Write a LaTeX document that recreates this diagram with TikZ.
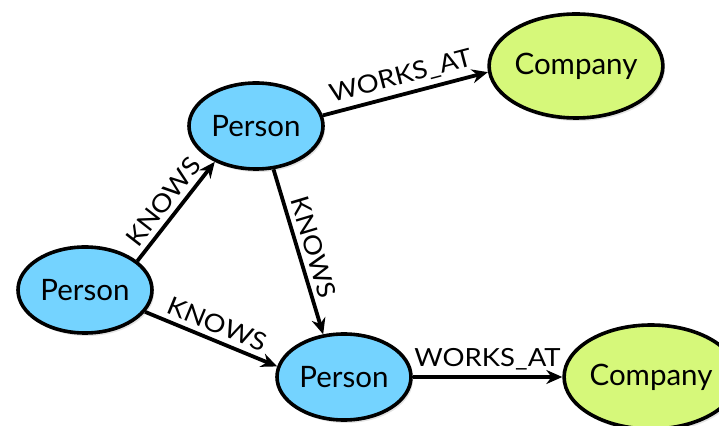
\documentclass[tikz,border=0pt]{standalone}
\usepackage{fontspec}
\setmainfont{Lato}
\newfontfamily\relfont[FakeStretch=1.1]{Lato}
\usetikzlibrary{shapes.geometric,arrows.meta,shadows}
\definecolor{personfill}{RGB}{116,211,255}
\definecolor{companyfill}{RGB}{214,248,122}
\tikzset{
  entity/.style={ellipse, draw=black, line width=3.6pt, inner sep=0pt,
    font=\fontsize{29.5}{32}\selectfont,
    drop shadow={opacity=0.22, shadow xshift=2pt, shadow yshift=-3pt}},
  person/.style={entity, fill=personfill, minimum width=134pt, minimum height=86pt},
  company/.style={entity, fill=companyfill, minimum width=168pt, minimum height=104pt},
  rel/.style={line width=3.8pt, -{Stealth[length=16pt,width=14pt]}},
  rellabel/.style={font=\relfont\fontsize{25}{28}\selectfont, sloped, above, inner sep=5pt}
}
\begin{document}
\begin{tikzpicture}[x=1pt,y=1pt]
  \useasboundingbox (0,0) rectangle (719,425);
  \node[person]  (pa) at (85,135)  {Person};
  \node[person]  (pb) at (256,299) {Person};
  \node[person]  (pc) at (344,48)  {Person};
  \node[company] (ca) at (576,359) {Company};
  \node[company] (cb) at (651,48)  {Company};

  \draw[rel] (pa.29)  -- node[rellabel] {KNOWS} (pb.221);
  \draw[rel] (pa.-20) -- node[rellabel] {KNOWS} (pc.171);
  \draw[rel] (pb.-68) -- node[rellabel] {KNOWS} (pc.116);
  \draw[rel] (pb.9)   -- node[rellabel] {WORKS\_AT} (ca.184);
  \draw[rel] (pc.0)   -- node[rellabel] {WORKS\_AT} (cb.180);
\end{tikzpicture}
\end{document}
